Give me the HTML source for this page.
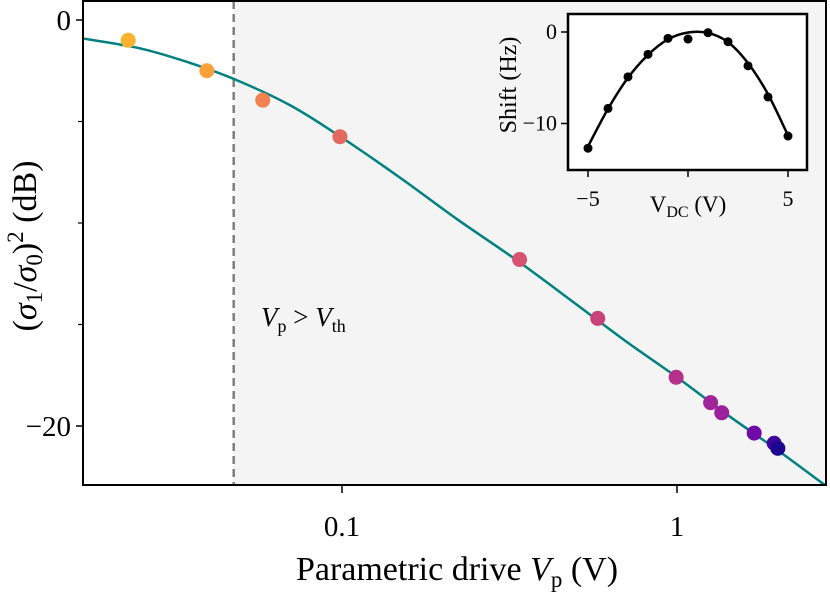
<!DOCTYPE html>
<html><head><meta charset="utf-8"><style>
html,body{margin:0;padding:0;background:#fff;}
svg{display:block;font-family:"Liberation Serif",serif;}
</style></head><body>
<svg id="chart" width="830" height="593" viewBox="0 0 830 593">
<rect x="0" y="0" width="830" height="593" fill="#fff"/>
<g id="main"></g>
<g id="inset"></g>
</svg>
<script>
// ---- main chart data ----
const driveV = [0.023,0.0395,0.058,0.0986,0.339,0.58,0.994,1.26,1.36,1.70,1.95,2.0];
const gainDB = [-1.0,-2.5,-3.95,-5.75,-11.8,-14.7,-17.6,-18.85,-19.35,-20.35,-20.85,-21.1];
const pointColors = ['#fbb32f','#fca03a','#f08350','#e3685e','#d5536f','#c8437a','#b5308a','#a12399','#9c1f9c','#6f0aa6','#3e049c','#1d068f'];
const fitV = [0.0167,0.025,0.035,0.0475,0.07,0.1,0.15,0.22,0.33,0.5,0.7,1.0,1.4,2.0,2.81];
const fitDB = [-0.9,-1.4,-2.1,-2.9,-4.2,-5.8,-7.8,-9.8,-11.8,-14.0,-15.8,-17.6,-19.4,-21.2,-23.0];
const threshV = 0.0475;
const yTicks = [0,-20];
const yMinor = [-5,-10,-15];
const xTicks = [0.1,1];
const xTickLabels = ['0.1','1'];
// ---- inset data ----
const dcV = [-5,-4,-3,-2,-1,0,1,2,3,4,5];
const shiftHz = [-12.7,-8.35,-4.9,-2.44,-0.69,-0.77,-0.07,-1.06,-3.7,-7.1,-11.37];
const fitDcV = [-5,-4,-3,-2,-1,0,1,2,3,4,5];
const fitShift = [-12.5,-8.4,-5.0,-2.5,-0.8,-0.05,-0.1,-1.1,-3.4,-6.8,-11.3];
const insetXTicks = [-5,0,5];
const insetXLabels = ['\u22125','','5'];
const insetYTicks = [0,-10];
const insetYLabels = ['0','\u221210'];

const NS='http://www.w3.org/2000/svg';
function mk(parent,tag,attrs,text){const e=document.createElementNS(NS,tag);for(const k in attrs)e.setAttribute(k,attrs[k]);if(text!==undefined)e.textContent=text;parent.appendChild(e);return e;}

const L=83,R=826,T=1,B=485;
const X=v=>342+(Math.log10(v)+1)*335;
const Y=d=>20-d*20.3;
function smooth(pts){let d='M'+pts[0][0]+','+pts[0][1];for(let i=0;i<pts.length-1;i++){const p0=pts[i-1]||pts[i],p1=pts[i],p2=pts[i+1],p3=pts[i+2]||p2;d+=' C'+(p1[0]+(p2[0]-p0[0])/6)+','+(p1[1]+(p2[1]-p0[1])/6)+' '+(p2[0]-(p3[0]-p1[0])/6)+','+(p2[1]-(p3[1]-p1[1])/6)+' '+p2[0]+','+p2[1];}return d;}
const g=document.getElementById('main');
const shade=mk(g,'rect',{x:X(threshV),y:T,width:R-X(threshV),height:B-T,fill:'#f4f4f4'});


const dl=mk(g,'line',{x1:X(threshV),x2:X(threshV),y1:T,y2:B,stroke:'#808080','stroke-width':2.5,'stroke-dasharray':'8,5'});


const cp=[];for(let i=0;i<fitV.length;i++)cp.push([X(fitV[i]),Y(fitDB[i])]);
const cl=document.createElementNS(NS,'clipPath');cl.id='mc';mk(cl,'rect',{x:L,y:T,width:R-L,height:B-T});g.appendChild(cl);
const fit=mk(g,'path',{d:smooth(cp),fill:'none',stroke:'#008080','stroke-width':2.5,'clip-path':'url(#mc)'});


for(let i=0;i<driveV.length;i++){
 const c=mk(g,'circle',{cx:X(driveV[i]),cy:Y(gainDB[i]),r:7.5,fill:pointColors[i]});
 
 
}
const fr=mk(g,'rect',{x:L,y:T,width:R-L,height:B-T,fill:'none',stroke:'#000','stroke-width':2});


yTicks.forEach(t=>{mk(g,'line',{x1:L-7,x2:L,y1:Y(t),y2:Y(t),stroke:'#000','stroke-width':1.5});
 const tl=mk(g,'text',{x:L-12,y:Y(t)+10,'font-size':29,'text-anchor':'end'},t<0?'\u2212'+(-t):String(t));
 
 });
yMinor.forEach(t=>mk(g,'line',{x1:L-5,x2:L,y1:Y(t),y2:Y(t),stroke:'#000','stroke-width':1.2}));
xTicks.forEach((t,i)=>{mk(g,'line',{x1:X(t),x2:X(t),y1:B,y2:B+8,stroke:'#000','stroke-width':1.5});
 const tl=mk(g,'text',{x:X(t),y:536,'font-size':29,'text-anchor':'middle'},xTickLabels[i]);
 
 });
const xt=mk(g,'text',{x:457,y:580,'font-size':34,'text-anchor':'middle'});
xt.innerHTML='Parametric drive <tspan font-style="italic">V</tspan><tspan font-size="23" dy="7">p</tspan><tspan dy="-7"> (V)</tspan>';


const yt=mk(g,'text',{transform:'translate(36,246) rotate(-90)','font-size':34,'text-anchor':'middle'});
yt.innerHTML='(<tspan font-style="italic">σ</tspan><tspan font-size="23" dy="6">1</tspan><tspan dy="-6">/</tspan><tspan font-style="italic">σ</tspan><tspan font-size="23" dy="6">0</tspan><tspan dy="-6">)</tspan><tspan font-size="23" dy="-13">2</tspan><tspan dy="13"> (dB)</tspan>';


const an=mk(g,'text',{x:261,y:326,'font-size':27});
an.innerHTML='<tspan font-style="italic">V</tspan><tspan font-size="18" dy="6">p</tspan><tspan dy="-6"> &gt; </tspan><tspan font-style="italic">V</tspan><tspan font-size="18" dy="6">th</tspan>';



// inset
const h=document.getElementById('inset');
const iL=568,iR=807,iT=14,iB=170;
const IX=v=>588+(v+5)*20;
const IY=s=>32-s*9.15;
const ib=mk(h,'rect',{x:iL,y:iT,width:iR-iL,height:iB-iT,fill:'#fff',stroke:'#000','stroke-width':2.5});


const ip=[];for(let i=0;i<fitDcV.length;i++)ip.push([IX(fitDcV[i]),IY(fitShift[i])]);
const ic=mk(h,'path',{d:smooth(ip),fill:'none',stroke:'#000','stroke-width':2.5});


for(let i=0;i<dcV.length;i++){
 const c=mk(h,'circle',{cx:IX(dcV[i]),cy:IY(shiftHz[i]),r:4.5,fill:'#000'});
 
 
}
insetXTicks.forEach((t,i)=>{mk(h,'line',{x1:IX(t),x2:IX(t),y1:iB,y2:iB+7,stroke:'#000','stroke-width':1.5});
 const tl=mk(h,'text',{x:IX(t),y:206,'font-size':22,'text-anchor':'middle'},insetXLabels[i]);
 
 });
insetYTicks.forEach((t,i)=>{mk(h,'line',{x1:iL-7,x2:iL,y1:IY(t),y2:IY(t),stroke:'#000','stroke-width':1.5});
 const tl=mk(h,'text',{x:iL-11,y:IY(t)+7,'font-size':22,'text-anchor':'end'},insetYLabels[i]);
 
 });
const ixt=mk(h,'text',{x:688,y:212,'font-size':23,'text-anchor':'middle'});
ixt.innerHTML='V<tspan font-size="16" dy="5">DC</tspan><tspan dy="-5"> (V)</tspan>';


const iyt=mk(h,'text',{transform:'translate(516,85) rotate(-90)','font-size':24,'text-anchor':'middle'},'Shift (Hz)');


</script>
</body></html>
